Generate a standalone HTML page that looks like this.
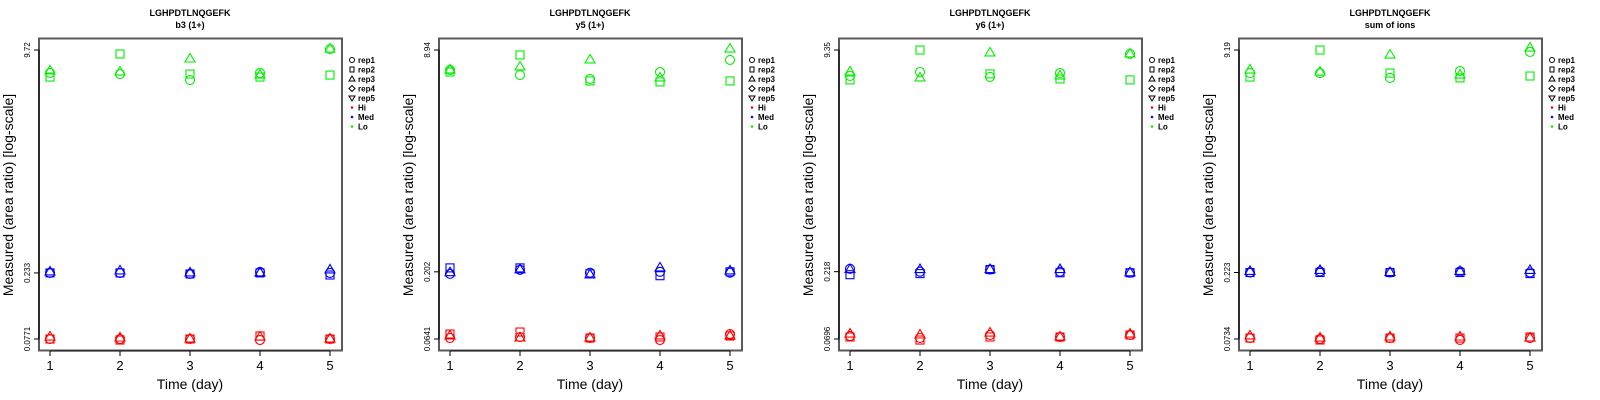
<!DOCTYPE html>
<html><head><meta charset="utf-8"><style>
html,body{margin:0;padding:0;background:#fff;}
svg{display:block;font-family:"Liberation Sans",sans-serif;}
</style></head><body>
<svg id="chart" width="1600" height="400" viewBox="0 0 1600 400"></svg>
<script>
const days = [1,2,3,4,5];
const panelTitles = ["b3 (1+)","y5 (1+)","y6 (1+)","sum of ions"];
const peptide = "LGHPDTLNQGEFK";
const tickLabels = [["9.72","0.233","0.0771"],["8.94","0.202","0.0641"],["9.35","0.218","0.0696"],["9.19","0.223","0.0734"]];
const tickValues = [[9.72,0.233,0.0771],[8.94,0.202,0.0641],[9.35,0.218,0.0696],[9.19,0.223,0.0734]];
const reps = ["rep1","rep2","rep3"];
const levels = ["Hi","Med","Lo"];
const levelColors = ["#ff0000","#0000ff","#00ee00"];
// values[panel][level][rep][day]
const lo1 = [[6.62,6.50,5.88,6.62,9.88],[6.18,9.09,6.50,6.18,6.39],[6.84,6.73,8.36,6.39,9.88]];
const med1 = [[0.233,0.233,0.229,0.237,0.233],[0.233,0.233,0.229,0.233,0.225],[0.237,0.241,0.233,0.233,0.245]];
const hi1 = [[0.0771,0.0771,0.0771,0.0758,0.0771],[0.0771,0.0758,0.0771,0.0811,0.0771],[0.0797,0.0784,0.0771,0.0797,0.0771]];
const lo2 = [[6.36,5.83,5.45,6.14,7.54],[6.14,8.21,5.27,5.18,5.27],[6.36,6.69,7.54,5.55,9.09]];
const med2 = [[0.195,0.209,0.199,0.202,0.199],[0.216,0.216,0.195,0.189,0.202],[0.199,0.209,0.192,0.216,0.205]];
const hi2 = [[0.0652,0.0663,0.0652,0.0630,0.0698],[0.0698,0.0722,0.0652,0.0663,0.0675],[0.0675,0.0652,0.0652,0.0675,0.0675]];
const lo3 = [[6.02,6.44,5.92,6.33,8.74],[5.63,9.35,6.23,5.72,5.63],[6.44,5.82,8.89,6.02,8.74]];
const med3 = [[0.229,0.218,0.226,0.218,0.214],[0.207,0.211,0.226,0.214,0.214],[0.226,0.226,0.226,0.226,0.214]];
const hi3 = [[0.0732,0.0708,0.0745,0.0720,0.0745],[0.0720,0.0684,0.0720,0.0720,0.0745],[0.0757,0.0745,0.0770,0.0720,0.0757]];
const lo4 = [[6.25,6.25,5.76,6.47,8.89],[5.85,9.19,6.25,5.76,5.95],[6.58,6.36,8.45,6.05,9.50]];
const med4 = [[0.223,0.227,0.223,0.227,0.223],[0.223,0.223,0.223,0.223,0.219],[0.227,0.231,0.223,0.227,0.231]];
const hi4 = [[0.0746,0.0734,0.0746,0.0722,0.0746],[0.0746,0.0722,0.0746,0.0746,0.0759],[0.0772,0.0746,0.0759,0.0759,0.0746]];
const values = [[hi1,med1,lo1],[hi2,med2,lo2],[hi3,med3,lo3],[hi4,med4,lo4]];

const NS = "http://www.w3.org/2000/svg";
const svg = document.getElementById("chart");
function mk(tag, attrs, parent, text){
  const e = document.createElementNS(NS, tag);
  for (const k in attrs) e.setAttribute(k, attrs[k]);
  if (text !== undefined) e.textContent = text;
  parent.appendChild(e);
  return e;
}
function marker(g, type, cx, cy, color){
  let e;
  if (type === 0) e = mk("circle",{cx:cx,cy:cy,r:4.5,fill:"none",stroke:color,"stroke-width":1.1},g);
  else if (type === 1) e = mk("rect",{x:cx-4,y:cy-4,width:8,height:8,fill:"none",stroke:color,"stroke-width":1.1},g);
  else e = mk("polygon",{points:`${cx},${cy-5.5} ${cx+5},${cy+3} ${cx-5},${cy+3}`,fill:"none",stroke:color,"stroke-width":1.1},g);
  return e;
}
for (let p = 0; p < 4; p++){
  const ox = p*400;
  const g = mk("g",{transform:`translate(${ox},0)`},svg);
  
  
  const top = tickValues[p][0], low = tickValues[p][2];
  const yTop = 50, yLow = 339;
  const k = (yLow - yTop) / (Math.log10(top) - Math.log10(low));
  const ys = v => yTop + (Math.log10(top) - Math.log10(v)) * k;
  const xs = d => 50 + (d - 1) * 70;
  // titles
  const t1 = mk("text",{x:190,y:16,"text-anchor":"middle","font-size":9,"font-weight":"bold"},g,peptide);
  
  
  const t2 = mk("text",{x:190,y:28,"text-anchor":"middle","font-size":9,"font-weight":"bold"},g,panelTitles[p]);
  
  
  // frame
  const fr = mk("rect",{x:39,y:38.5,width:303,height:312,fill:"none",stroke:"#5a5a5a","stroke-width":2},g);
  
  
  // y axis
  const ya = mk("g",{},g);
  
  
  mk("line",{x1:39,y1:ys(tickValues[p][0]),x2:39,y2:ys(tickValues[p][2]),stroke:"#000","stroke-width":1},ya);
  for (let i = 0; i < 3; i++){
    const y = ys(tickValues[p][i]);
    mk("line",{x1:34,y1:y,x2:39,y2:y,stroke:"#000","stroke-width":1},ya);
    const tl = mk("text",{x:0,y:0,transform:`translate(30,${y}) rotate(-90)`,"text-anchor":"middle","font-size":8},ya,tickLabels[p][i]);
    
    
  }
  const yt = mk("text",{x:0,y:0,transform:"translate(13,195) rotate(-90)","text-anchor":"middle","font-size":14},g,"Measured (area ratio) [log-scale]");
  
  
  // x axis
  const xa = mk("g",{},g);
  
  
  mk("line",{x1:xs(days[0]),y1:351,x2:xs(days[days.length-1]),y2:351,stroke:"#000","stroke-width":1},xa);
  days.forEach(d => {
    mk("line",{x1:xs(d),y1:351,x2:xs(d),y2:356,stroke:"#000","stroke-width":1},xa);
    const tl = mk("text",{x:xs(d),y:370,"text-anchor":"middle","font-size":13},xa,String(d));
    
    
  });
  const xt = mk("text",{x:190,y:389,"text-anchor":"middle","font-size":14},g,"Time (day)");
  
  
  // points
  for (let l = 0; l < 3; l++){
    for (let r = 0; r < 3; r++){
      const sg = mk("g",{},g);
      
      
      days.forEach((d, i) => {
        const m = marker(sg, r, xs(d), ys(values[p][l][r][i]), levelColors[l]);
        
        
      });
    }
  }
  // legend
  const lg = mk("g",{},g);
  
  
  const labels = ["rep1","rep2","rep3","rep4","rep5","Hi","Med","Lo"];
  labels.forEach((lab, i) => {
    const y = 60 + i * 9.5;
    const eg = mk("g",{},lg);
    
    
    const cx = 352;
    if (i === 0) mk("circle",{cx:cx,cy:y,r:2.5,fill:"none",stroke:"#000","stroke-width":1},eg);
    else if (i === 1) mk("rect",{x:cx-2,y:y-2.5,width:4,height:5,fill:"none",stroke:"#000","stroke-width":1},eg);
    else if (i === 2) mk("polygon",{points:`${cx},${y-3} ${cx+3},${y+2} ${cx-3},${y+2}`,fill:"none",stroke:"#000","stroke-width":1},eg);
    else if (i === 3) mk("polygon",{points:`${cx},${y-3} ${cx+3},${y} ${cx},${y+3} ${cx-3},${y}`,fill:"none",stroke:"#000","stroke-width":1},eg);
    else if (i === 4) mk("polygon",{points:`${cx},${y+3} ${cx+3},${y-2} ${cx-3},${y-2}`,fill:"none",stroke:"#000","stroke-width":1},eg);
    else mk("circle",{cx:cx,cy:y,r:1.3,fill:levelColors[i-5]},eg);
    mk("text",{x:358,y:y+3,"font-size":8,"font-weight":"bold"},eg,lab);
  });
}
</script>
</body></html>
